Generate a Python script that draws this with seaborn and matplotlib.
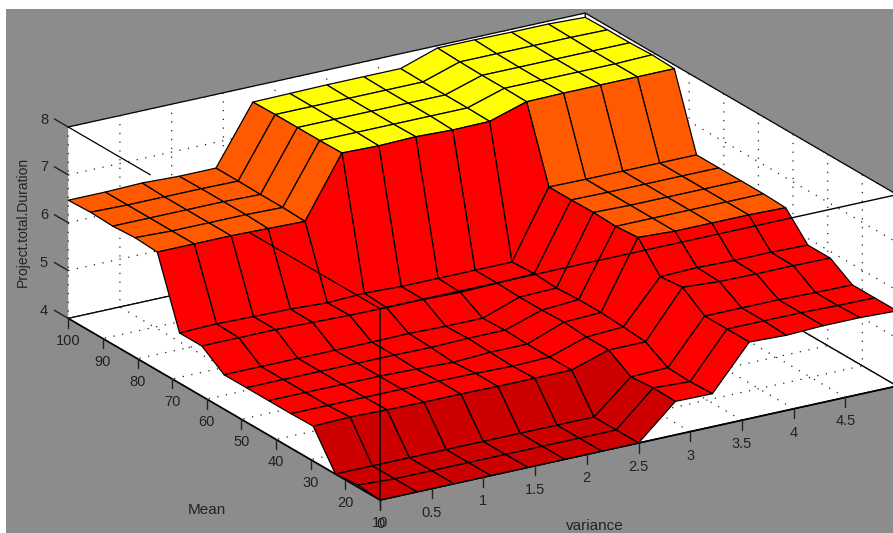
import numpy as np
import matplotlib
matplotlib.use("Agg")
import matplotlib.pyplot as plt
from matplotlib.colors import BoundaryNorm, ListedColormap
from matplotlib.patches import Rectangle
from mpl_toolkits.mplot3d import proj3d
import seaborn as sns

# gensurf style grid, 15 x 15 points
variance = np.linspace(0, 5, 15)
mean = np.linspace(10, 100, 15)

# one row per mean value
duration = [
    [4.00, 4.00, 4.00, 4.00, 4.00, 4.00, 4.00, 4.00, 4.70, 4.69, 5.60, 5.57, 5.60, 5.60, 5.57],
    [4.04, 4.00, 4.00, 4.00, 4.00, 4.00, 4.00, 4.00, 4.71, 4.67, 5.60, 5.60, 5.60, 5.58, 5.57],
    [4.00, 4.00, 4.00, 4.00, 4.00, 4.00, 4.00, 4.00, 4.67, 4.69, 5.60, 5.60, 5.60, 5.58, 5.57],
    [4.73, 4.75, 4.73, 4.72, 4.72, 4.71, 4.71, 4.71, 4.96, 4.96, 5.93, 5.88, 5.87, 5.87, 5.86],
    [4.72, 4.72, 4.72, 4.72, 4.72, 4.71, 4.69, 4.71, 4.96, 5.00, 5.88, 5.90, 5.88, 5.88, 5.86],
    [4.72, 4.72, 4.72, 4.72, 4.70, 4.67, 4.71, 4.71, 5.00, 5.03, 6.43, 6.39, 6.39, 6.39, 6.37],
    [4.72, 4.72, 4.72, 4.72, 4.72, 4.71, 4.73, 4.73, 4.98, 5.03, 6.39, 6.39, 6.39, 6.39, 6.39],
    [4.72, 4.72, 4.72, 4.72, 4.72, 4.73, 4.71, 4.71, 4.98, 5.00, 6.41, 6.39, 6.39, 6.39, 6.39],
    [5.05, 5.05, 5.05, 5.03, 5.01, 5.00, 5.00, 4.98, 5.00, 5.03, 6.40, 6.39, 6.39, 6.39, 6.39],
    [5.05, 5.07, 5.05, 5.04, 5.00, 5.03, 5.00, 5.00, 5.00, 5.00, 6.40, 6.39, 6.39, 6.39, 6.39],
    [6.47, 6.47, 6.47, 6.45, 6.43, 7.69, 7.67, 7.69, 7.66, 7.67, 7.91, 7.92, 7.92, 7.92, 7.92],
    [6.50, 6.47, 6.47, 6.47, 6.45, 7.68, 7.68, 7.68, 7.68, 7.68, 7.92, 7.92, 7.92, 7.92, 7.94],
    [6.47, 6.47, 6.47, 6.47, 6.45, 7.68, 7.68, 7.68, 7.68, 7.68, 7.92, 7.92, 7.92, 7.92, 7.92],
    [6.49, 6.47, 6.47, 6.47, 6.46, 7.68, 7.68, 7.68, 7.68, 7.68, 7.93, 7.93, 7.93, 7.93, 7.92],
    [6.47, 6.47, 6.49, 6.46, 6.46, 7.67, 7.68, 7.69, 7.69, 7.69, 7.95, 7.95, 7.94, 7.94, 7.91],
]

x_ticks = [0, 0.5, 1, 1.5, 2, 2.5, 3, 3.5, 4, 4.5, 5]
x_tick_labels = ["0", "0.5", "1", "1.5", "2", "2.5", "3", "3.5", "4", "4.5", "5"]
y_ticks = [10, 20, 30, 40, 50, 60, 70, 80, 90, 100]
z_ticks = [4, 5, 6, 7, 8]

W, H = 893, 533
INK = "#222222"

sns.set_theme(style="white", rc={
    "grid.linestyle": (0, (1, 6)),
    "grid.linewidth": 0.9,
    "grid.color": "#222222",
    "axes.grid": True,
})
plt.rcParams["font.family"] = ["Liberation Sans", "DejaVu Sans"]

Z = np.array(duration)
X, Y = np.meshgrid(variance, mean)

# faces take the colour of their lowest corner
lowest = np.minimum.reduce([Z[:-1, :-1], Z[1:, :-1], Z[:-1, 1:], Z[1:, 1:]])
cmap = ListedColormap(sns.color_palette(["#cc0000", "#ff0000", "#ff5a00", "#ffff00"]))
norm = BoundaryNorm([0, 4.5, 6.0, 7.5, 10], 4)
face_colors = np.ones(Z.shape + (4,))
face_colors[:-1, :-1] = cmap(norm(lowest))

fig = plt.figure(figsize=(W / 100, H / 100), dpi=100, facecolor="white")
fig.add_artist(Rectangle((6 / W, 0), (W - 6) / W, (H - 9) / H, transform=fig.transFigure,
                         facecolor="#8c8c8c", edgecolor="none", zorder=-1))

ax = fig.add_axes([-0.3, -0.3, 1.6, 1.6], projection="3d", proj_type="ortho", computed_zorder=False)
ax.patch.set_visible(False)
ax.view_init(elev=21, azim=-121.6)

ax.plot_surface(X, Y, Z, facecolors=face_colors, rstride=1, cstride=1, shade=False,
                edgecolor="black", linewidth=0.9, antialiased=True, zorder=1)

ax.set_xticks(x_ticks)
ax.set_yticks(y_ticks)
ax.set_zticks(z_ticks)
ax.set_xticklabels([])
ax.set_yticklabels([])
ax.set_zticklabels([])

for axis in (ax.xaxis, ax.yaxis, ax.zaxis):
    axis.set_pane_color("white")
    axis.pane.set_edgecolor("black")
    axis.pane.set_linewidth(0.9)
    axis._axinfo["tick"]["inward_factor"] = 0
    axis._axinfo["tick"]["outward_factor"] = 0
ax.zaxis.line.set_color("none")
ax.xaxis.line.set_color("black")
ax.yaxis.line.set_color("black")

# ticks by hand, matlab draws them straight down
for v in x_ticks:
    ax.plot([v, v], [10, 10], [4, 3.8], color=INK, lw=1, zorder=5)
for v in y_ticks:
    ax.plot([0, 0], [v, v], [4, 3.8], color=INK, lw=1, zorder=5)
for v in z_ticks:
    ax.plot([0, 0], [100, 104], [v, v], color=INK, lw=1, zorder=5)

# front edges of the box, partly hidden by the surface in the original
ax.plot([0, 0], [10, 10], [4, 8], color="black", lw=1.1, zorder=5)
ax.plot([0, 5], [10, 10], [8, 8], color="black", lw=1.0, zorder=5)
ax.plot([0, 0], [100, 76.3], [8, 8], color="black", lw=0.9, zorder=5)
ax.plot([0, 0], [47.5, 10], [8, 8], color="black", lw=0.9, zorder=5)

ax.set_xlim(0, 5, view_margin=0)
ax.set_ylim(10, 100, view_margin=0)
ax.set_zlim(4, 8, view_margin=0)

fig.text(207 / W, 1 - 510 / H, "Mean", color=INK, fontsize=11, ha="center", va="center")
fig.text(595 / W, 1 - 526 / H, "variance", color=INK, fontsize=11, ha="center", va="center")
fig.text(23 / W, 1 - 222 / H, "Project.total.Duration", color=INK, fontsize=10,
         rotation=90, ha="center", va="center")


def to_pixels(x, y, z):
    xs, ys, _ = proj3d.proj_transform(x, y, z, ax.get_proj())
    return ax.transData.transform((xs, ys))


# scale and move the axes so the box corners land where they are in the original
ax.set_box_aspect((607, 595, 205), zoom=1)
fig.canvas.draw()
width_now = (to_pixels(5, 10, 4) - to_pixels(0, 10, 4))[0]
ax.set_box_aspect((607, 595, 205), zoom=517 / width_now)
fig.canvas.draw()
corner = to_pixels(0, 10, 4)
pos = ax.get_position(original=True)
ax.set_position([pos.x0 + (380 - corner[0]) / W, pos.y0 + (H - 500 - corner[1]) / H, pos.width, pos.height])
fig.canvas.draw()


def tick_label(x, y, z, label):
    px, py = to_pixels(x, y, z)
    if 8 < px < W - 8:
        fig.text(px / W, py / H, label, color=INK, fontsize=10.5, ha="center", va="center")


for v, label in zip(x_ticks, x_tick_labels):
    tick_label(v, 10, 3.5, label)
for v in y_ticks:
    tick_label(0, v, 3.52, str(v))
for v in z_ticks:
    tick_label(0, 107, v - 0.14, str(v))

fig.savefig("out.png", dpi=100)
